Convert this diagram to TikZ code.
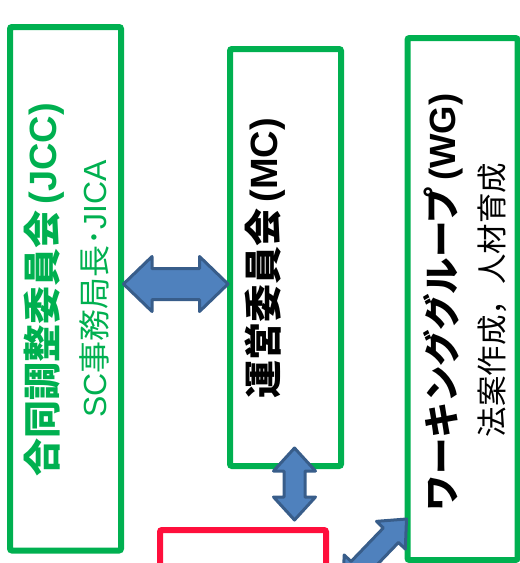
\documentclass[tikz,border=0pt]{standalone}
\usepackage{fontspec}
\newfontfamily\jp{Noto Sans CJK JP}
\newfontfamily\lat{Liberation Sans}
\usetikzlibrary{calc}
\definecolor{boxgreen}{HTML}{00B050}
\definecolor{boxred}{HTML}{FF0F3C}
\definecolor{arrfill}{HTML}{4F81BD}
\definecolor{arrline}{HTML}{385D8A}
\newcommand{\dblarrow}[5]{%
  \draw[blockarrow] (#1)
   -- ($(#1)!#5!(#2)!#4!90:(#2)$)
   -- ($(#1)!#5!(#2)!#3!90:(#2)$)
   -- ($(#2)!#5!(#1)!#3!-90:(#1)$)
   -- ($(#2)!#5!(#1)!#4!-90:(#1)$)
   -- (#2)
   -- ($(#2)!#5!(#1)!#4!90:(#1)$)
   -- ($(#2)!#5!(#1)!#3!90:(#1)$)
   -- ($(#1)!#5!(#2)!#3!-90:(#2)$)
   -- ($(#1)!#5!(#2)!#4!-90:(#2)$)
   -- cycle;}
\begin{document}
\begin{tikzpicture}[x=1pt,y=-1pt,
  box/.style={draw=boxgreen,line width=6pt,rounded corners=2pt,inner sep=0pt,outer sep=0pt},
  redbox/.style={box,draw=boxred},
  blockarrow/.style={fill=arrfill,draw=arrline,line width=3pt,line join=round},
  title/.style={rotate=90,inner sep=0pt,font=\jp\bfseries\fontsize{38pt}{40pt}\selectfont},
  sub/.style={rotate=90,inner sep=0pt,font=\jp\fontsize{32pt}{34pt}\selectfont}]
\useasboundingbox (0,0) rectangle (520,563);
\clip (0,0) rectangle (520,563);
% boxes
\node[box,minimum width=111pt,minimum height=523.5pt] (jcc) at (65.5,288.75) {};
\node[box,minimum width=111pt,minimum height=417pt] (mc) at (285.5,257.5) {};
\node[box,minimum width=110pt,minimum height=522pt] (wg) at (462.5,299) {};
\node[redbox,minimum width=166pt,minimum height=110pt] (red) at (243,585) {};
% texts
\node[title,text=boxgreen] (jcct) at (44,290) {合同調整委員会\,{\lat\bfseries(JCC)}};
\node[sub,text=boxgreen] (jccs) at (94,289) {{\lat SC}事務局長･{\lat JICA}};
\node[title] (mct) at (265.5,258.5) {運営委員会\,{\lat\bfseries(MC)}};
\node[title,font=\jp\bfseries\fontsize{36.5pt}{40pt}\selectfont] (wgt) at (443.5,302.5) {ワーキンググループ\,{\lat\bfseries(WG)}};
\node[sub,font=\jp\fontsize{30.5pt}{33pt}\selectfont] (wgs) at (492,300) {法案作成，人材育成};
% arrows
\coordinate (hy) at (0,284);
\coordinate (ha) at ($(jcc.east |- hy)+(2.5,0)$);
\coordinate (hb) at ($(mc.west |- hy)+(-2,0)$);
\dblarrow{ha}{hb}{15.5pt}{27.5pt}{28.5pt}
\coordinate (va) at ($(mc.south)+(9,-18)$);
\coordinate (vb) at ($(red.north -| va)+(0,-10)$);
\dblarrow{va}{vb}{10.5pt}{21pt}{23pt}
\coordinate (dy) at (0,519);
\coordinate (da) at ($(wg.west |- dy)+(-1,0)$);
\coordinate (db) at (343,585);
\dblarrow{db}{da}{10.5pt}{20pt}{22.5pt}
\end{tikzpicture}
\end{document}
